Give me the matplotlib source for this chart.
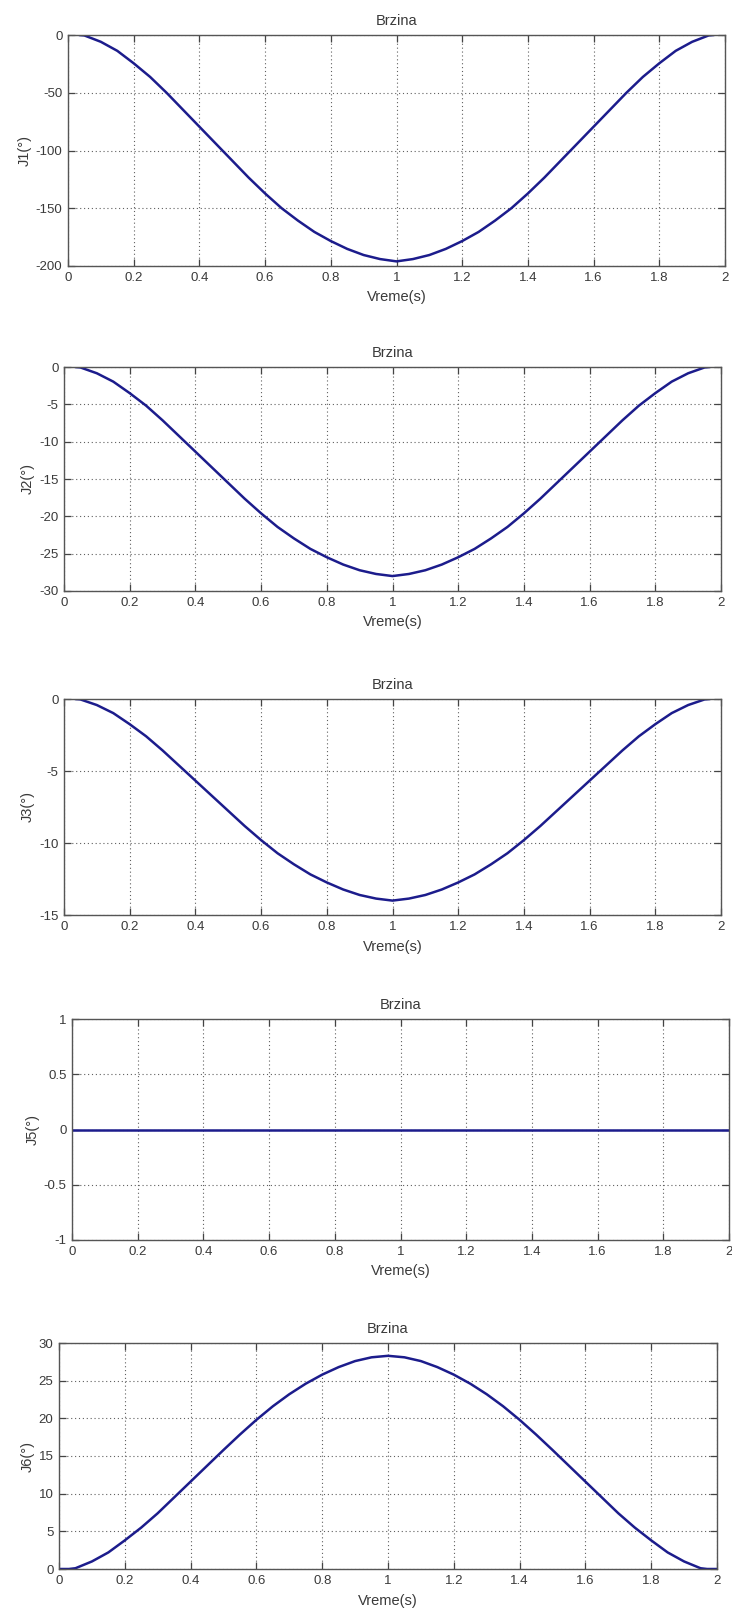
import numpy as np
import matplotlib
matplotlib.use("Agg")
import matplotlib.pyplot as plt

plt.rcParams['font.family'] = ['Liberation Sans', 'DejaVu Sans']

# Time samples (s) for joints 1-3
t_a = [0.033, 0.05, 0.1, 0.15, 0.2, 0.25, 0.3, 0.35, 0.4, 0.45, 0.5,
       0.55, 0.6, 0.65, 0.7, 0.75, 0.8, 0.85, 0.9, 0.95, 1.0,
       1.05, 1.1, 1.15, 1.2, 1.25, 1.3, 1.35, 1.4, 1.45, 1.5,
       1.55, 1.6, 1.65, 1.7, 1.75, 1.8, 1.85, 1.9, 1.95, 1.967]

j1 = [0, -0.4, -5.9, -13.7, -24.5, -36.3, -50.0, -64.7, -79.4, -94.1, -108.8,
      -123.5, -137.2, -149.9, -160.7, -170.5, -178.4, -185.2, -190.5, -194.0, -196.0,
      -194.0, -190.5, -185.2, -178.4, -170.5, -160.7, -149.9, -137.2, -123.5, -108.8,
      -94.1, -79.4, -64.7, -50.0, -36.3, -24.5, -13.7, -5.9, -0.4, 0]

j2 = [0, -0.06, -0.84, -1.96, -3.5, -5.18, -7.14, -9.24, -11.34, -13.44, -15.54,
      -17.64, -19.6, -21.42, -22.96, -24.36, -25.48, -26.46, -27.22, -27.72, -28.0,
      -27.72, -27.22, -26.46, -25.48, -24.36, -22.96, -21.42, -19.6, -17.64, -15.54,
      -13.44, -11.34, -9.24, -7.14, -5.18, -3.5, -1.96, -0.84, -0.06, 0]

j3 = [0, -0.03, -0.42, -0.98, -1.75, -2.59, -3.57, -4.62, -5.67, -6.72, -7.77,
      -8.82, -9.8, -10.71, -11.48, -12.18, -12.74, -13.23, -13.61, -13.86, -14.0,
      -13.86, -13.61, -13.23, -12.74, -12.18, -11.48, -10.71, -9.8, -8.82, -7.77,
      -6.72, -5.67, -4.62, -3.57, -2.59, -1.75, -0.98, -0.42, -0.03, 0]

# Joint 5 stays at rest
t_b = [0.0, 2.0]
j5 = [0.0, 0.0]

# Joint 6 samples
t_c = [0.0, 0.03, 0.05, 0.1, 0.15, 0.2, 0.25, 0.3, 0.35, 0.4, 0.45, 0.5,
       0.55, 0.6, 0.65, 0.7, 0.75, 0.8, 0.85, 0.9, 0.95, 1.0,
       1.05, 1.1, 1.15, 1.2, 1.25, 1.3, 1.35, 1.4, 1.45, 1.5,
       1.55, 1.6, 1.65, 1.7, 1.75, 1.8, 1.85, 1.9, 1.95, 1.97, 2.0]
j6 = [0, 0, 0.1, 1.0, 2.2, 3.8, 5.5, 7.4, 9.5, 11.6, 13.7, 15.8,
      17.85, 19.8, 21.6, 23.2, 24.6, 25.8, 26.8, 27.6, 28.1, 28.3,
      28.1, 27.6, 26.8, 25.8, 24.6, 23.2, 21.6, 19.8, 17.85, 15.8,
      13.7, 11.6, 9.5, 7.4, 5.5, 3.8, 2.2, 1.0, 0.1, 0, 0]

x_ticks = [0, 0.2, 0.4, 0.6, 0.8, 1, 1.2, 1.4, 1.6, 1.8, 2]
x_ticklabels = ['0', '0.2', '0.4', '0.6', '0.8', '1', '1.2', '1.4', '1.6', '1.8', '2']

panels = [
    (t_a, j1, 'J1(°)', (-200, 0), [-200, -150, -100, -50, 0], (68, 725, 35, 266)),
    (t_a, j2, 'J2(°)', (-30, 0), [-30, -25, -20, -15, -10, -5, 0], (64, 721, 367, 591)),
    (t_a, j3, 'J3(°)', (-15, 0), [-15, -10, -5, 0], (64, 721, 699, 915)),
    (t_b, j5, 'J5(°)', (-1, 1), [-1, -0.5, 0, 0.5, 1], (72, 729, 1019, 1240)),
    (t_c, j6, 'J6(°)', (0, 30), [0, 5, 10, 15, 20, 25, 30], (59, 717, 1343, 1569)),
]

W, H = 732, 1613
fig = plt.figure(figsize=(W / 100, H / 100), dpi=100)
fig.patch.set_facecolor('white')

text_col = '#3a3a3a'
line_col = '#1c1c8c'

for tx, ys, ylab, ylim, yticks, (l, r, top, bot) in panels:
    ax = fig.add_axes([l / W, 1 - bot / H, (r - l) / W, (bot - top) / H])
    ax.plot(tx, ys, color=line_col, lw=1.8, solid_capstyle='butt',
            solid_joinstyle='round')
    ax.set_xlim(0, 2)
    ax.set_ylim(*ylim)
    ax.set_xticks(x_ticks)
    ax.set_xticklabels(x_ticklabels)
    ax.set_yticks(yticks)
    ax.set_yticklabels([('%g' % v) for v in yticks])
    ax.grid(True, linestyle=(0, (1, 2.5)), color='#606060', lw=0.8)
    ax.tick_params(direction='in', length=5, width=0.9, color='#444444',
                   labelsize=9.5, labelcolor=text_col, top=True, right=True,
                   pad=4)
    for s in ax.spines.values():
        s.set_color('#555555')
        s.set_linewidth(1.0)
    ax.set_title('Brzina', fontsize=10.5, color=text_col, pad=7)
    ax.set_xlabel('Vreme(s)', fontsize=10.5, color=text_col, labelpad=5)
    ax.set_ylabel(ylab, fontsize=10.5, color=text_col, labelpad=3)

fig.savefig('out.png', dpi=100, facecolor='white')
